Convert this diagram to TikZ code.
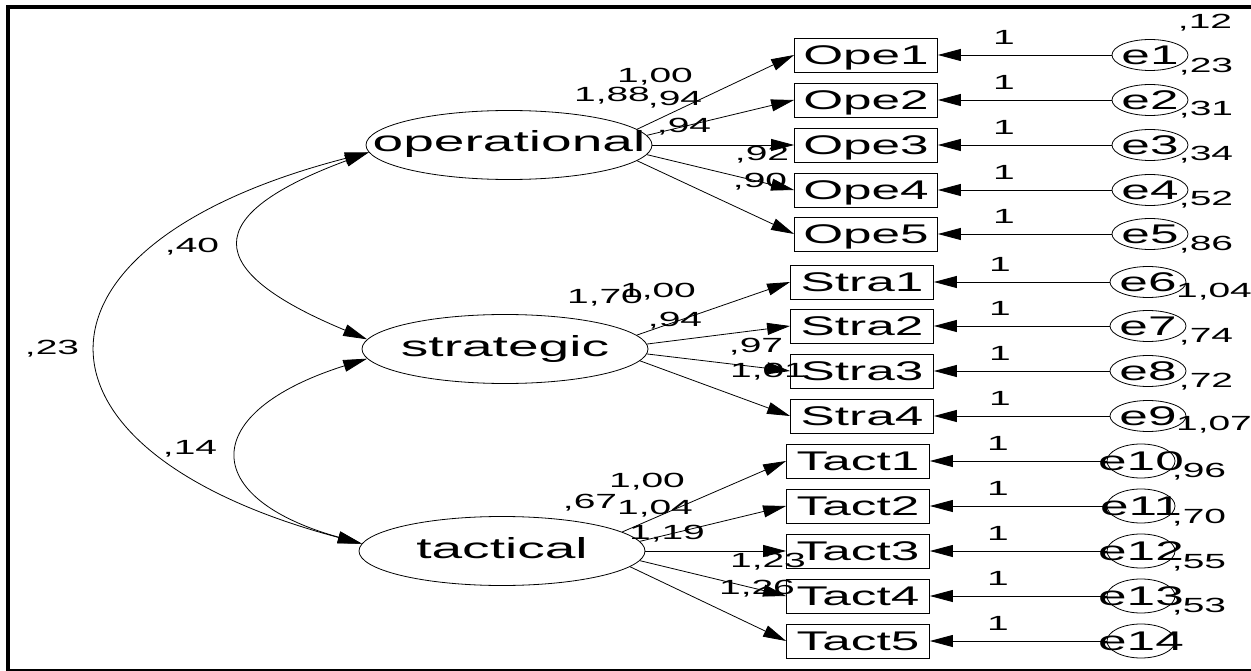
\documentclass[tikz,border=0pt]{standalone}
\usepackage{fontspec}
\setmainfont{Liberation Sans}
\newfontfamily\amos[FakeStretch=1.9]{Liberation Sans}
\usetikzlibrary{shapes.geometric,arrows.meta}
\begin{document}
\begin{tikzpicture}[x=1pt,y=-1pt,line width=0.8pt,
  latent/.style={draw,ellipse,inner sep=0pt,minimum width=286pt,minimum height=69pt,
    font=\amos\fontsize{29}{32}\selectfont,text height=20pt,text depth=6pt},
  indic/.style={draw,rectangle,inner sep=0pt,minimum width=143pt,minimum height=34pt,
    font=\amos\fontsize{27}{30}\selectfont,text height=20pt,text depth=1pt},
  errv/.style={draw,ellipse,inner sep=0pt,minimum width=76pt,minimum height=31pt,
    font=\amos\fontsize{27}{30}\selectfont,text height=20pt,text depth=1pt},
  errw/.style={errv,minimum width=68pt,minimum height=34pt},
  num/.style={inner sep=0pt,font=\amos\fontsize{20.5}{22}\selectfont,text height=14.6pt,text depth=0pt},
  arr/.style={-{Triangle[length=23pt,width=12pt]}},
  cov/.style={{Triangle[length=24pt,width=12pt]}-{Triangle[length=24pt,width=12pt]}},
]
\useasboundingbox (0,0) rectangle (1251,671);
% frame
\draw[line width=4pt] (8,671) -- (8,7) -- (1251,7);
\draw[line width=2pt] (8,670) -- (1251,670);

% latent variables
\node[latent] (op) at (509,145) {\makebox[0pt]{operational}};
\node[latent] (st) at (505,349) {\makebox[0pt]{strategic}};
\node[latent] (ta) at (502,551) {\makebox[0pt]{tactical}};

% indicators
\foreach \i/\y in {1/55,2/100,3/145,4/190,5/234}
  \node[indic] (ope\i) at (866,\y) {Ope\i};
\foreach \i/\y in {1/282,2/326,3/371,4/416}
  \node[indic] (stra\i) at (862,\y) {Stra\i};
\foreach \i/\y in {1/461,2/506,3/551,4/596,5/641}
  \node[indic] (tact\i) at (858,\y) {Tact\i};

% error terms
\foreach \i/\y in {1/55,2/100,3/145,4/190,5/234}
  \node[errv] (e\i) at (1150,\y) {\makebox[0pt]{e\i}};
\foreach \i/\y in {6/282,7/326,8/371,9/416}
  \node[errv] (e\i) at (1148,\y) {\makebox[0pt]{e\i}};
\foreach \i/\y in {10/461,11/506,12/551,13/596,14/641}
  \node[errw] (e\i) at (1141,\y) {\makebox[0pt]{e\i}};

% error arrows with labels 1
\foreach \i/\b/\y/\x in {1/ope1/55/1004,2/ope2/100/1004,3/ope3/145/1004,4/ope4/190/1004,5/ope5/234/1004,
    6/stra1/282/1000,7/stra2/326/1000,8/stra3/371/1000,9/stra4/416/1000,
    10/tact1/461/998,11/tact2/506/998,12/tact3/551/998,13/tact4/596/998,14/tact5/641/998}{
  \draw[arr] (e\i.west) -- (\b.east);
  \node[num] (one\i) at (\x,\y-18) {1};
}

% loadings
\draw[arr] (op.7.6) -- (ope1.west);
\draw[arr] (op.4.1) -- (ope2.west);
\draw[arr] (op.0) -- (ope3.west);
\draw[arr] (op.-4.1) -- (ope4.west);
\draw[arr] (op.-7.6) -- (ope5.west);
\draw[arr] (st.6) -- (stra1.west);
\draw[arr] (st.2.4) -- (stra2.west);
\draw[arr] (st.-2) -- (stra3.west);
\draw[arr] (st.-5.6) -- (stra4.west);
\draw[arr] (ta.9.3) -- (tact1.west);
\draw[arr] (ta.4.1) -- (tact2.west);
\draw[arr] (ta.0) -- (tact3.west);
\draw[arr] (ta.-4.1) -- (tact4.west);
\draw[arr] (ta.-7.1) -- (tact5.west);

% covariances
\draw[cov] (op.183) .. controls (200,215) and (200,270) .. (st.176);
\draw[cov] (op.183) .. controls (10,245) and (10,450) .. (ta.177);
\draw[cov] (st.184) .. controls (198,412) and (198,498) .. (ta.177);
\node[num] (c40) at (192,245) {,40};
\node[num] (c23) at (52,347) {,23};
\node[num] (c14) at (190,447) {,14};

% loading labels
\node[num] (lo1) at (655,75) {1,00};
\node[num] (lo2) at (612,94) {1,88};
\node[num] (lo3) at (675,98) {,94};
\node[num] (lo4) at (684,125) {,94};
\node[num] (lo5) at (762,153) {,92};
\node[num] (lo6) at (760,180) {,90};
\node[num] (ls1) at (605,296) {1,70};
\node[num] (ls2) at (658,290) {1,00};
\node[num] (ls3) at (675,319) {,94};
\node[num] (ls4) at (756,345) {,97};
\node[num] (ls5) at (768,370) {1,01};
\node[num] (lt1) at (647,480) {1,00};
\node[num] (lt2) at (590,501) {,67};
\node[num] (lt3) at (655,507) {1,04};
\node[num] (lt4) at (667,532) {1,19};
\node[num] (lt5) at (768,560) {1,23};
\node[num] (lt6) at (757,587) {1,26};

% error variances
\node[num] (v1) at (1205,21) {,12};
\node[num] (v2) at (1206,65) {,23};
\node[num] (v3) at (1206,108) {,31};
\node[num] (v4) at (1206,153) {,34};
\node[num] (v5) at (1206,198) {,52};
\node[num] (v6) at (1206,243) {,86};
\node[num] (v7) at (1214,290) {1,04};
\node[num] (v8) at (1206,335) {,74};
\node[num] (v9) at (1206,380) {,72};
\node[num] (v10) at (1214,423) {1,07};
\node[num] (v11) at (1199,470) {,96};
\node[num] (v12) at (1199,516) {,70};
\node[num] (v13) at (1199,561) {,55};
\node[num] (v14) at (1199,605) {,53};
\end{tikzpicture}
\end{document}
